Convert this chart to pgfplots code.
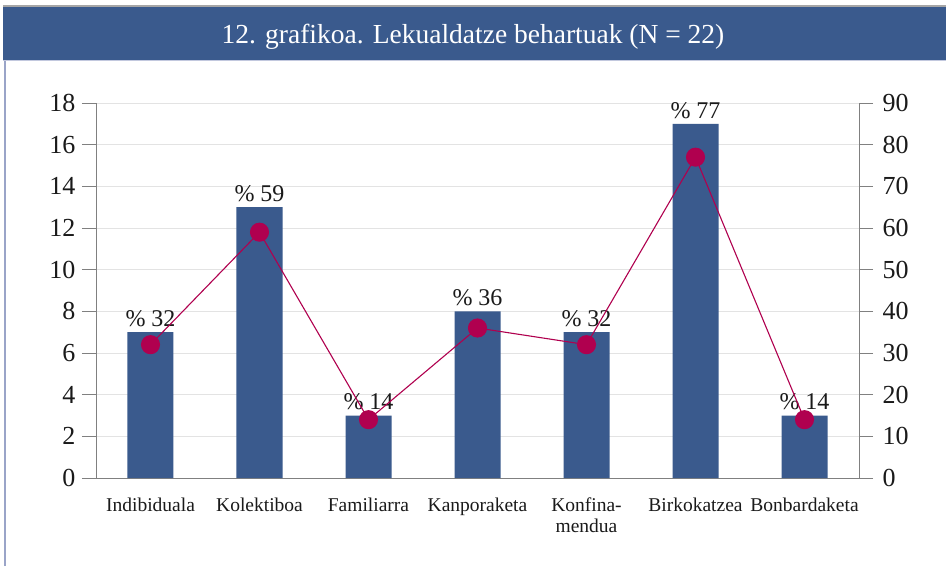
\documentclass[border=0pt]{standalone}
\usepackage{pgfplots}
\pgfplotsset{compat=1.18}
\usepackage{fontspec}
\setmainfont{Liberation Serif}
\definecolor{barblue}{HTML}{3A5A8D}
\definecolor{linered}{HTML}{B0004F}
\definecolor{axgray}{HTML}{808080}
\definecolor{gridgray}{HTML}{E3E3E3}
\definecolor{frameblue}{HTML}{9AA4C8}
\definecolor{txt}{HTML}{1A1A1A}
\begin{document}
\begin{tikzpicture}[x=1pt,y=1pt]
\path[use as bounding box, fill=white] (0,0) rectangle (946,566);
% frame
\draw[frameblue, line width=2pt] (4.5,0) -- (4.5,506);
\fill[barblue] (3,505) rectangle (946,559.5);
\draw[gray!70, line width=1.2pt] (3,560) -- (946,560);
\draw[frameblue!60, line width=1pt] (3,505) -- (946,505);
\node[white, font=\fontsize{27.5}{30}\selectfont] at (473,529) {12. grafikoa. Lekualdatze behartuak (N = 22)};
% main axis (counts)
\begin{axis}[
  at={(96pt,88pt)}, anchor=south west,
  scale only axis, width=763pt, height=375pt,
  xmin=-0.5, xmax=6.5, ymin=0, ymax=18,
  ytick={0,2,...,18},
  xtick={0,...,6},
  xticklabels={Indibiduala,Kolektiboa,Familiarra,Kanporaketa,{Konfina-\\mendua},Birkokatzea,Bonbardaketa},
  xticklabel style={font=\fontsize{19.5}{21}\selectfont, text=txt, align=center, anchor=north, yshift=-2pt},
  minor xtick={-0.5,0.5,...,6.5},
  xtick style={draw=none},
  minor x tick style={axgray, line width=0.9pt},
  minor tick length=15pt,
  major tick length=14pt,
  tick align=outside,
  ytick style={axgray, line width=0.9pt},
  axis x line*=bottom, axis y line*=left,
  axis line style={axgray, line width=0.9pt, -},
  ymajorgrids, grid style={gridgray, line width=0.9pt},
  yticklabel style={font=\fontsize{26}{28}\selectfont, text=txt, xshift=-3pt},
  /pgf/number format/assume math mode=true,
  clip=false,
]
\addplot[ybar, bar width=46pt, fill=barblue, draw=none,
  nodes near coords, point meta=explicit symbolic,
  every node near coord/.append style={font=\fontsize{24}{26}\selectfont, text=txt, anchor=south, inner sep=1pt, yshift=4pt}]
  table[meta=lab, row sep=\\] {
  x y lab\\
  0 7 {\%~32}\\
  1 13 {\%~59}\\
  2 3 {\%~14}\\
  3 8 {\%~36}\\
  4 7 {\%~32}\\
  5 17 {\%~77}\\
  6 3 {\%~14}\\
  };
\end{axis}
% secondary axis (percent)
\begin{axis}[
  at={(96pt,88pt)}, anchor=south west,
  scale only axis, width=763pt, height=375pt,
  xmin=-0.5, xmax=6.5, ymin=0, ymax=90,
  ytick={0,10,...,90},
  axis y line*=right, axis x line=none,
  axis line style={axgray, line width=0.9pt, -},
  major tick length=14pt, tick align=outside,
  ytick style={axgray, line width=0.9pt},
  yticklabel style={font=\fontsize{26}{28}\selectfont, text=txt, xshift=6pt},
  /pgf/number format/assume math mode=true,
  clip=false,
]
\addplot[linered, line width=1.1pt, mark=*, mark size=9pt, mark options={fill=linered, draw=linered}]
  coordinates {(0,32) (1,59) (2,14) (3,36) (4,32) (5,77) (6,14)};
\end{axis}
\end{tikzpicture}
\end{document}
